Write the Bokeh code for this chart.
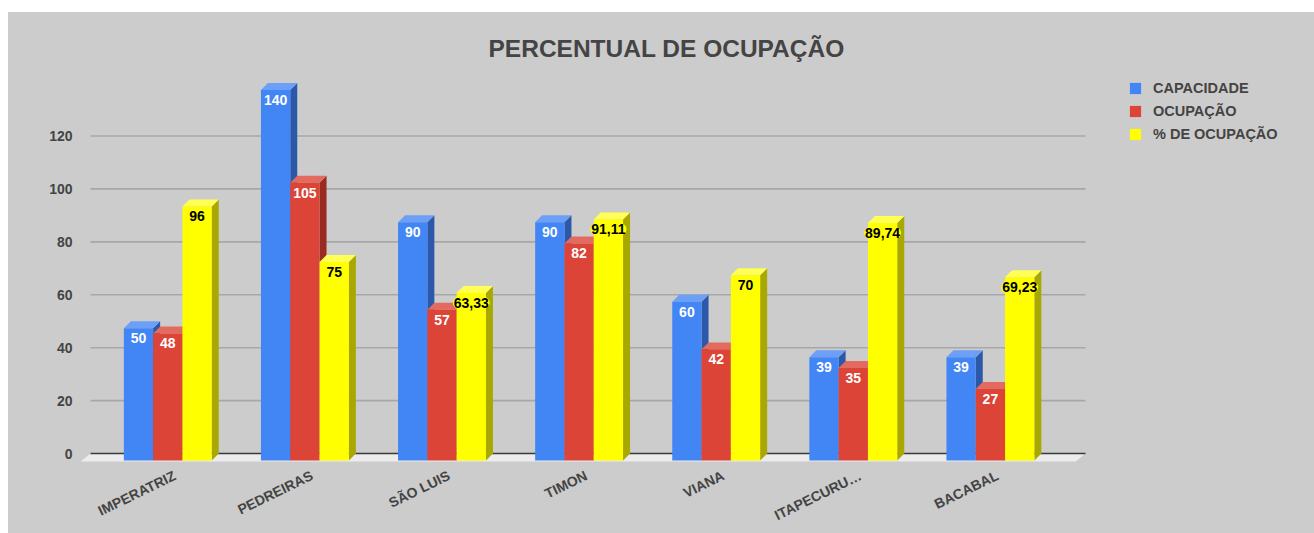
import math
from bokeh.plotting import figure
from bokeh.models import (ColumnDataSource, FixedTicker, Legend, LegendItem,
                          Range1d, Spacer)
from bokeh.layouts import column, row
from bokeh.core.properties import value
from bokeh.embed import file_html
from bokeh.resources import INLINE

# ---------------- data ----------------
categorias = ["IMPERATRIZ", "PEDREIRAS", "SÃO LUIS", "TIMON", "VIANA",
              "ITAPECURU…", "BACABAL"]
capacidade = [50, 140, 90, 90, 60, 39, 39]
ocupacao = [48, 105, 57, 82, 42, 35, 27]
percentual = [96, 75, 63.33, 91.11, 70, 89.74, 69.23]
y_ticks = [0, 20, 40, 60, 80, 100, 120]
series_names = ["CAPACIDADE", "OCUPAÇÃO", "% DE OCUPAÇÃO"]

# ---------------- styling / geometry ----------------
FONT = "Liberation Sans"
TXT = "#444444"
W, H = 1306, 521
BORDER_L, BORDER_R, BORDER_T, BORDER_B = 68, 0, 58, 67
FRAME_W = W - BORDER_L - BORDER_R
FRAME_H = H - BORDER_T - BORDER_B
PX_X = 137.1          # pixels per category
PX_Y = 2.66           # pixels per value unit
ZERO_FROM_BOTTOM = 11  # px from frame bottom to value 0
FIRST_FROM_LEFT = 98.3  # px from frame left to first category (back plane)
DX = 7 / PX_X         # 3D depth, x
DY = 7 / PX_Y         # 3D depth, y
BW = 29.3 / PX_X      # bar width
GRID_X0 = -84.3 / PX_X
GRID_X1 = 910.7 / PX_X

x_start = -FIRST_FROM_LEFT / PX_X
y_start = -ZERO_FROM_BOTTOM / PX_Y

colors = [
    dict(front="#4285f4", side="#2b58a8", top="#6c9ff7", text="white", bg=None),
    dict(front="#db4437", side="#982c22", top="#e36a5f", text="white", bg=None),
    dict(front="#ffff00", side="#a8a800", top="#ffff55", text="black", bg="#ffff00"),
]
offsets = [-BW, 0.0, BW]

p = figure(width=W, height=H, output_backend="svg", toolbar_location=None,
           x_range=Range1d(x_start, x_start + FRAME_W / PX_X),
           y_range=Range1d(y_start, y_start + FRAME_H / PX_Y),
           min_border_left=BORDER_L, min_border_right=BORDER_R,
           min_border_top=BORDER_T, min_border_bottom=BORDER_B,
           styles={"background-color": "#cccccc"})
p.background_fill_color = "#cccccc"
p.border_fill_color = "#cccccc"
p.outline_line_color = None
p.xgrid.visible = False
p.ygrid.visible = False

# title
p.title.text = "PERCENTUAL DE OCUPAÇÃO"
p.title.text_font = FONT
p.title.text_font_size = "24.5px"
p.title.text_font_style = "bold"
p.title.text_color = TXT
p.title.align = "left"
p.title.offset = 412
p.title.standoff = 18

# floor
p.patch(x=[GRID_X0, GRID_X1, GRID_X1 - 1.4 * DX, GRID_X0 - 1.4 * DX],
        y=[0, 0, -1.15 * DY, -1.15 * DY], fill_color="#ececec", line_color=None)

# gridlines
grid_y = [t for t in y_ticks if t != 0]
p.segment(x0=[GRID_X0] * len(grid_y), x1=[GRID_X1] * len(grid_y), y0=grid_y, y1=grid_y,
          line_color="#a7a7a7", line_width=1.6)
p.segment(x0=[GRID_X0], x1=[GRID_X1], y0=[0], y1=[0], line_color="#3a3a3a", line_width=1.6)

# bars
legend_items = []
series = [capacidade, ocupacao, percentual]
for s, (vals, off, c, name) in enumerate(zip(series, offsets, colors, series_names)):
    xl = [i + off - BW / 2 - DX for i in range(len(vals))]
    xr = [i + off + BW / 2 - DX for i in range(len(vals))]
    side_xs = [[r, r + DX, r + DX, r] for r in xr]
    side_ys = [[-DY, 0, v, v - DY] for v in vals]
    top_xs = [[l, l + DX, r + DX, r] for l, r in zip(xl, xr)]
    top_ys = [[v - DY, v, v, v - DY] for v in vals]
    p.patches(xs=side_xs, ys=side_ys, fill_color=c["side"], line_color=None)
    p.patches(xs=top_xs, ys=top_ys, fill_color=c["top"], line_color=None)
    front = p.quad(left=xl, right=xr, bottom=[-DY] * len(vals),
                   top=[v - DY for v in vals], fill_color=c["front"], line_color=None)
    legend_items.append(LegendItem(label=name, renderers=[front]))
    labels = [f"{v:g}".replace(".", ",") if isinstance(v, int) else f"{v:.2f}".replace(".", ",").replace(",00", "")
              for v in vals]
    src = ColumnDataSource(dict(x=[i + off - DX for i in range(len(vals))],
                                y=[v - DY - 10 / PX_Y for v in vals], t=labels))
    kw = {}
    if c["bg"]:
        kw = dict(background_fill_color=c["bg"], border_radius=6, padding=1)
    p.text(x="x", y="y", text="t", source=src, text_align="center",
           text_baseline="middle", text_font=value(FONT), text_font_size="14px",
           text_font_style="bold", text_color=c["text"], **kw)

legend = Legend(items=legend_items, location=(1052, 320), padding=0, margin=0,
                spacing=3, glyph_width=14, glyph_height=14, label_height=20,
                label_standoff=11, label_text_font=FONT, label_text_font_size="14.5px",
                label_text_font_style="bold", label_text_color=TXT,
                border_line_color=None, background_fill_alpha=0)
p.add_layout(legend)

# axes
xa = p.xaxis[0]
xa.ticker = FixedTicker(ticks=list(range(len(categorias))))
xa.major_label_overrides = {i: n for i, n in enumerate(categorias)}
xa.major_label_orientation = math.radians(26)
xa.axis_line_color = None
xa.major_tick_line_color = None
xa.minor_tick_line_color = None
xa.major_tick_out = 0
xa.major_label_standoff = 10
xa.major_label_text_font = FONT
xa.major_label_text_font_size = "14px"
xa.major_label_text_font_style = "bold"
xa.major_label_text_color = TXT

ya = p.yaxis[0]
ya.ticker = FixedTicker(ticks=y_ticks)
ya.axis_line_color = None
ya.major_tick_line_color = None
ya.minor_tick_line_color = None
ya.major_tick_out = 0
ya.major_label_standoff = 4
ya.major_label_text_font = FONT
ya.major_label_text_font_size = "14px"
ya.major_label_text_font_style = "bold"
ya.major_label_text_color = TXT

layout = row(Spacer(width=8, height=H + 12),
             column(Spacer(width=W, height=12), p))
open("out.html", "w").write(file_html(layout, INLINE))
